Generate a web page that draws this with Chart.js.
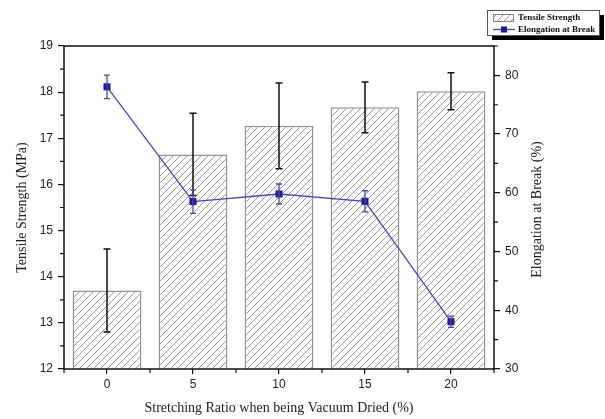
<!DOCTYPE html>
<html>
<head>
<meta charset="utf-8">
<script src="https://cdn.jsdelivr.net/npm/chart.js@4/dist/chart.umd.min.js"></script>
<style>
  html, body { margin: 0; padding: 0; background: #fff; }
  #wrap { width: 605px; height: 419px; }
</style>
</head>
<body>
<div id="wrap"><canvas id="ratioChart" width="605" height="419"></canvas></div>
<script>
// stretching ratio (%) groups
const ratios = ['0', '5', '10', '15', '20'];
// tensile strength (MPa) and its standard deviation
const tensile = [13.7, 16.65, 17.27, 17.67, 18.02];
const tensileErr = [0.9, 0.89, 0.93, 0.55, 0.4];
// elongation at break (%) and its standard deviation
const elongation = [78.05, 58.5, 59.8, 58.55, 38.05];
const elongationErr = [2.0, 2.0, 1.7, 1.8, 0.95];
// axis tick values
const leftTicks = [12, 13, 14, 15, 16, 17, 18, 19];
const rightTicks = [30, 40, 50, 60, 70, 80];

const lineColor = '#4848b0';
const markColor = '#1d1d8c';
const serif = '"Liberation Serif", "DejaVu Serif", serif';
const sans = '"Liberation Sans", Arial, sans-serif';

// diagonal hatch fill for the bars
function makeHatch() {
    const s = 7;
    const c = document.createElement('canvas');
    c.width = s; c.height = s;
    const g = c.getContext('2d');
    g.fillStyle = '#fff';
    g.fillRect(0, 0, s, s);
    g.strokeStyle = '#9a9a9a';
    g.lineWidth = 1;
    g.beginPath();
    g.moveTo(-1, 1); g.lineTo(1, -1);
    g.moveTo(0, s); g.lineTo(s, 0);
    g.moveTo(s - 1, s + 1); g.lineTo(s + 1, s - 1);
    g.stroke();
    return g.createPattern(c, 'repeat');
}
const hatch = makeHatch();

function errorBar(ctx, x, yTop, yBot, half) {
    ctx.beginPath();
    ctx.moveTo(x, yTop); ctx.lineTo(x, yBot);
    ctx.moveTo(x - half, yTop); ctx.lineTo(x + half, yTop);
    ctx.moveTo(x - half, yBot); ctx.lineTo(x + half, yBot);
    ctx.stroke();
}

// error bars for both series
const errorBars = {
    id: 'errorBars',
    afterDatasetDraw(chart, args) {
        const ctx = chart.ctx;
        const x = chart.scales.x;
        ctx.save();
        if (args.index === 0) {
            const y = chart.scales.y;
            ctx.strokeStyle = '#111';
            ctx.lineWidth = 1.5;
            tensile.forEach((v, i) => {
                errorBar(ctx, x.getPixelForValue(i), y.getPixelForValue(v + tensileErr[i]),
                    y.getPixelForValue(v - tensileErr[i]), 3.5);
            });
        } else {
            const y1 = chart.scales.y1;
            ctx.strokeStyle = lineColor;
            ctx.lineWidth = 1.3;
            elongation.forEach((v, i) => {
                errorBar(ctx, x.getPixelForValue(i), y1.getPixelForValue(v + elongationErr[i]),
                    y1.getPixelForValue(v - elongationErr[i]), 3);
            });
        }
        ctx.restore();
    }
};

// frame, minor ticks, right title and legend box
const decorations = {
    id: 'decorations',
    afterDraw(chart) {
        const ctx = chart.ctx;
        const a = chart.chartArea;
        const x = chart.scales.x, y = chart.scales.y, y1 = chart.scales.y1;
        ctx.save();
        ctx.strokeStyle = '#111';
        ctx.lineWidth = 1.5;
        ctx.strokeRect(a.left, a.top, a.right - a.left, a.bottom - a.top);

        ctx.lineWidth = 1.2;
        ctx.beginPath();
        for (let i = 0; i <= ratios.length; i++) {
            const px = x.getPixelForValue(i - 0.5);
            ctx.moveTo(px, a.bottom); ctx.lineTo(px, a.bottom + 4);
        }
        for (let v = 12.5; v < 19; v += 1) {
            const py = y.getPixelForValue(v);
            ctx.moveTo(a.left, py); ctx.lineTo(a.left - 4, py);
        }
        for (let v = 35; v <= 85; v += 10) {
            const py = y1.getPixelForValue(v);
            ctx.moveTo(a.right, py); ctx.lineTo(a.right + 4, py);
        }
        ctx.stroke();

        // right axis title reads bottom to top
        ctx.fillStyle = '#222';
        ctx.font = '14px ' + serif;
        ctx.textAlign = 'center';
        ctx.textBaseline = 'middle';
        ctx.translate(537, (a.top + a.bottom) / 2 + 2);
        ctx.rotate(-Math.PI / 2);
        ctx.fillText('Elongation at Break (%)', 0, 0);
        ctx.setTransform(1, 0, 0, 1, 0, 0);

        // legend
        const bx = 487, by = 10, bw = 112, bh = 25;
        ctx.fillStyle = '#000';
        ctx.fillRect(bx + 5, by + 5, bw, bh);
        ctx.fillStyle = '#fff';
        ctx.fillRect(bx, by, bw, bh);
        ctx.strokeStyle = '#555';
        ctx.lineWidth = 1;
        ctx.strokeRect(bx + 0.5, by + 0.5, bw, bh);

        ctx.fillStyle = hatch;
        ctx.fillRect(493, 14, 21, 7);
        ctx.strokeStyle = '#888';
        ctx.strokeRect(493.5, 14.5, 20, 7);

        ctx.strokeStyle = lineColor;
        ctx.lineWidth = 1.3;
        ctx.beginPath();
        ctx.moveTo(493, 29.5); ctx.lineTo(515, 29.5);
        ctx.stroke();
        ctx.fillStyle = markColor;
        ctx.fillRect(501, 26.5, 6, 6);

        ctx.fillStyle = '#111';
        ctx.font = 'bold 9px ' + serif;
        ctx.textAlign = 'left';
        ctx.fillText('Tensile Strength', 518, 18);
        ctx.fillText('Elongation at Break', 518, 29.5);
        ctx.restore();
    }
};

const ctx = document.getElementById('ratioChart').getContext('2d');
new Chart(ctx, {
    type: 'bar',
    data: {
        labels: ratios,
        datasets: [{
            label: 'Tensile Strength',
            data: tensile,
            yAxisID: 'y',
            backgroundColor: hatch,
            borderColor: '#939393',
            borderWidth: 1.5,
            barPercentage: 0.8,
            categoryPercentage: 1,
            order: 1
        }, {
            type: 'line',
            label: 'Elongation at Break',
            data: elongation,
            yAxisID: 'y1',
            borderColor: lineColor,
            borderWidth: 1.3,
            pointStyle: 'rect',
            pointRadius: 5,
            pointBackgroundColor: markColor,
            pointBorderColor: markColor,
            pointBorderWidth: 0,
            tension: 0,
            order: 0
        }]
    },
    options: {
        responsive: false,
        animation: false,
        layout: { padding: { top: 46, left: 0, right: 0, bottom: 0 } },
        plugins: { legend: { display: false }, tooltip: { enabled: false } },
        scales: {
            x: {
                type: 'category',
                offset: true,
                grid: { display: true, drawOnChartArea: false, offset: false, tickLength: 5, color: '#111', lineWidth: 1.2 },
                border: { display: false },
                ticks: { color: '#222', font: { family: sans, size: 12 }, padding: 3, maxRotation: 0 },
                title: { display: true, text: 'Stretching Ratio when being Vacuum Dried (%)', color: '#222',
                    font: { family: serif, size: 14 }, padding: { top: 0, bottom: 2 } },
                afterFit: s => { s.height = 50; }
            },
            y: {
                position: 'left',
                min: 12,
                max: 19,
                afterBuildTicks: s => { s.ticks = leftTicks.map(v => ({ value: v })); },
                grid: { display: true, drawOnChartArea: false, tickLength: 6, color: '#111', lineWidth: 1.2 },
                border: { display: false },
                ticks: { color: '#222', font: { family: sans, size: 12 }, padding: 5 },
                title: { display: true, text: 'Tensile Strength (MPa)', color: '#222',
                    font: { family: serif, size: 14 }, padding: { top: 13.6, bottom: 0 } },
                afterFit: s => { s.width = 64; }
            },
            y1: {
                position: 'right',
                min: 30,
                max: 85,
                afterBuildTicks: s => { s.ticks = rightTicks.map(v => ({ value: v })); },
                grid: { display: true, drawOnChartArea: false, tickLength: 6, color: '#111', lineWidth: 1.2 },
                border: { display: false },
                ticks: { color: '#222', font: { family: sans, size: 12 }, padding: 5 },
                afterFit: s => { s.width = 111; }
            }
        }
    },
    plugins: [errorBars, decorations]
});
</script>
</body>
</html>
